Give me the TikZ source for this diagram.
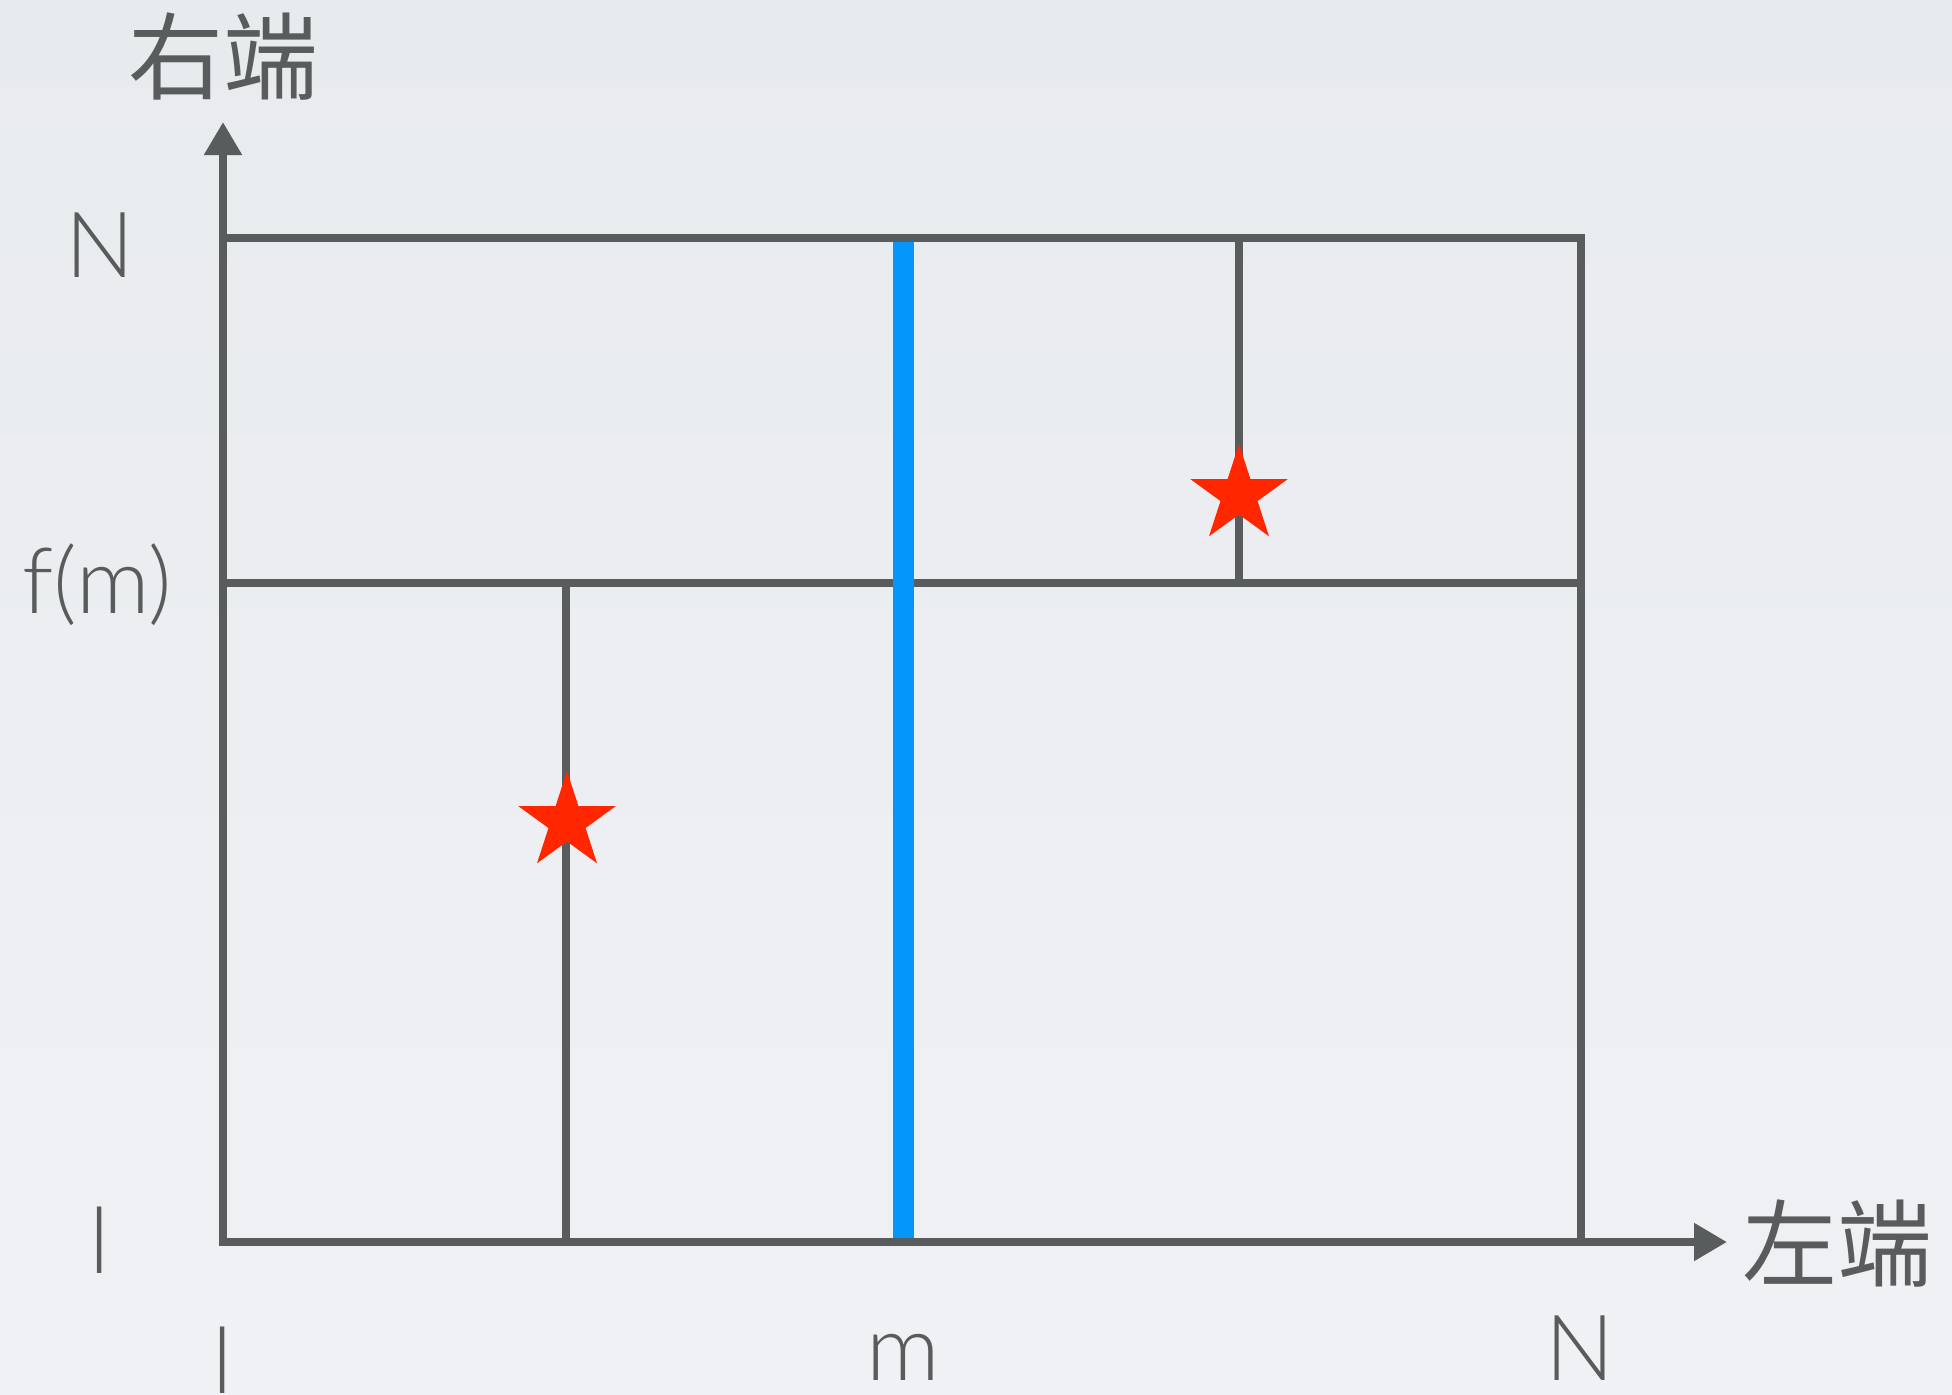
\documentclass[tikz,border=0pt]{standalone}
\usepackage{fontspec}
\setmainfont{Lato Light}
\newfontfamily\cjk{Noto Sans CJK SC}
\usetikzlibrary{arrows.meta,shapes.geometric}
\definecolor{linegray}{RGB}{88,92,92}
\definecolor{bgtop}{RGB}{232,235,238}
\definecolor{bgbot}{RGB}{240,241,244}
\definecolor{midblue}{RGB}{5,150,252}
\definecolor{starred}{RGB}{255,38,0}
\begin{document}
\begin{tikzpicture}[x=0.01cm,y=-0.01cm,
    grid/.style={linegray,line width=2.3pt},
    axisarrows/.style={grid,{Triangle[length=0.33cm,width=0.36cm]}-{Triangle[length=0.33cm,width=0.36cm]}},
    lbl/.style={text=linegray,font=\fontsize{26}{30}\selectfont,inner sep=0pt,anchor=base},
    cjklbl/.style={text=linegray,font=\cjk\fontsize{27}{32}\selectfont,inner sep=0pt},
    redstar/.style={star,star points=5,star point ratio=2.618,fill=starred,minimum size=1.02cm,inner sep=0pt}]
    % background
    \shade[top color=bgtop,bottom color=bgbot] (0,0) rectangle (1952,1394);
    \useasboundingbox (0,0) rectangle (1952,1394);
    % corners of the grid
    \coordinate (O) at (223,1242);
    \coordinate (ytip) at (223,122);
    \coordinate (xtip) at (1727,1242);
    \coordinate (tl) at (223,238);
    \coordinate (tr) at (1581,238);
    \coordinate (br) at (1581,1242);
    \coordinate (ml) at (223,583);
    \coordinate (mr) at (1581,583);
    \coordinate (btop) at (903,238);
    \coordinate (bbot) at (903,1242);
    \coordinate (lmid) at (566,583);
    \coordinate (lbot) at (566,1242);
    \coordinate (rtop) at (1239,238);
    \coordinate (rmid) at (1239,583);
    % inner lines
    \draw[grid] (ml) -- (mr);
    \draw[grid] (lmid) -- (lbot);
    \draw[grid] (rtop) -- (rmid);
    % split at m
    \draw[midblue,line width=0.21cm] (btop) -- (bbot);
    % box
    \draw[grid] (tl) -- (tr) -- (br);
    % axes
    \draw[axisarrows] (xtip) -- (O) -- (ytip);
    % stars
    \node[redstar] (lstar) at (567,822) {};
    \node[redstar] (rstar) at (1239,495) {};
    % labels
    \node[cjklbl] (ylab) at (223,57) {右端};
    \node[cjklbl] (xlab) at (1837,1243) {左端};
    \node[lbl] (yN) at (100,277) {N};
    \node[lbl] (yfm) at (97,613) {f(m)};
    \node[lbl] (yl) at (100,1273) {l};
    \node[lbl] (xl) at (223,1393) {l};
    \node[lbl] (xm) at (903,1380) {m};
    \node[lbl] (xN) at (1580,1380) {N};
\end{tikzpicture}
\end{document}
